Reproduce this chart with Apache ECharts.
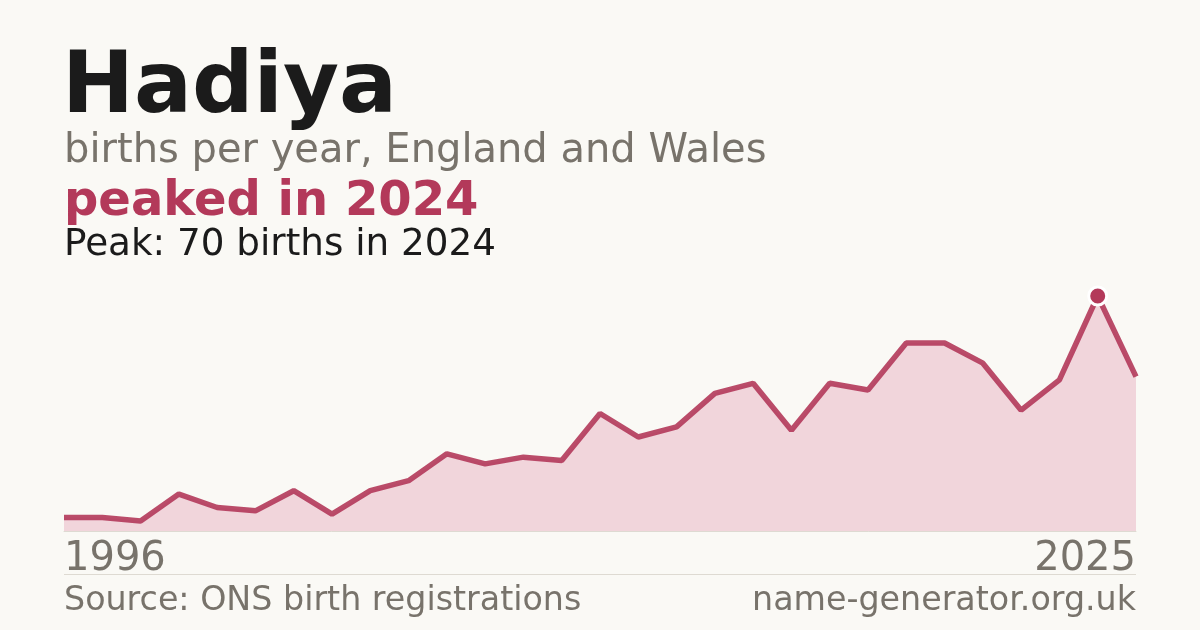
<!DOCTYPE html>
<html lang="en">
<head>
<meta charset="utf-8">
<title>Hadiya births per year</title>
<style>
  html, body { margin: 0; height: 100%; background: #faf9f5; }
  #chart { width: 1200px; height: 630px; }
</style>
</head>
<body>
<div id="chart"></div>
<script src="https://cdn.jsdelivr.net/npm/echarts@6/dist/echarts.min.js"></script>
<script>
// births per year (one year absent from the source series)
var years = ['1996', '1998', '1999', '2000', '2001', '2002', '2003', '2004', '2005', '2006',
  '2007', '2008', '2009', '2010', '2011', '2012', '2013', '2014', '2015', '2016',
  '2017', '2018', '2019', '2020', '2021', '2022', '2023', '2024', '2025'];
var births = [4, 4, 3, 11, 7, 6, 12, 5, 12, 15,
  23, 20, 22, 21, 35, 28, 31, 41, 44, 30,
  44, 42, 56, 56, 50, 36, 45, 70, 46];

var red = '#b3395a';
var grey = '#78736b';
var font = 'DejaVu Sans';

var peak = Math.max.apply(null, births);
var peakIdx = births.indexOf(peak);
var lastIdx = years.length - 1;

var chart = echarts.init(document.getElementById('chart'), null, { renderer: 'canvas' });

var option = {
  backgroundColor: '#faf9f5',
  animation: false,
  grid: { left: 64, right: 64, top: 296, bottom: 99 },
  xAxis: {
    type: 'category',
    data: years,
    boundaryGap: false,
    axisLine: { show: true, lineStyle: { color: '#dedad2', width: 1 } },
    axisTick: { show: false },
    splitLine: { show: false },
    axisLabel: {
      interval: function (i) { return i === 0 || i === lastIdx; },
      showMinLabel: true,
      showMaxLabel: true,
      alignMinLabel: 'left',
      alignMaxLabel: 'right',
      margin: 9,
      color: grey,
      fontFamily: font,
      fontSize: 40
    }
  },
  yAxis: {
    type: 'value',
    min: 0,
    max: 'dataMax',
    show: false,
    splitLine: { show: false }
  },
  series: [
    {
      type: 'line',
      data: births,
      showSymbol: false,
      lineStyle: { color: red, width: 5.5, opacity: 0.9 },
      areaStyle: { color: '#f1d5db', opacity: 1 },
      z: 2
    },
    {
      type: 'scatter',
      data: [[peakIdx, peak]],
      symbol: 'circle',
      symbolSize: 18,
      itemStyle: { color: red, opacity: 1, borderColor: '#ffffff', borderWidth: 3 },
      z: 5
    }
  ],
  graphic: [
    { type: 'text', left: 62, top: 47,
      style: { text: 'Hadiya', font: 'bold 86px "' + font + '"', fill: '#1b1b1b' } },
    { type: 'text', left: 64, top: 132,
      style: { text: 'births per year, England and Wales', font: '40px "' + font + '"', fill: grey } },
    { type: 'text', left: 64, top: 179,
      style: { text: 'peaked in 2024', font: 'bold 48px "' + font + '"', fill: red } },
    { type: 'text', left: 64, top: 227,
      style: { text: 'Peak: ' + peak + ' births in ' + years[peakIdx], font: '37.3px "' + font + '"', fill: '#1b1b1b' } },
    { type: 'line', shape: { x1: 64, y1: 574.5, x2: 1136, y2: 574.5 },
      style: { stroke: '#dedad2', lineWidth: 1 } },
    { type: 'text', left: 64, top: 585,
      style: { text: 'Source: ONS birth registrations', font: '33.3px "' + font + '"', fill: grey } },
    { type: 'text', right: 64, top: 585,
      style: { text: 'name-generator.org.uk', font: '33.3px "' + font + '"', fill: grey } }
  ]
};

chart.setOption(option);
window.addEventListener('resize', chart.resize);
</script>
</body>
</html>
